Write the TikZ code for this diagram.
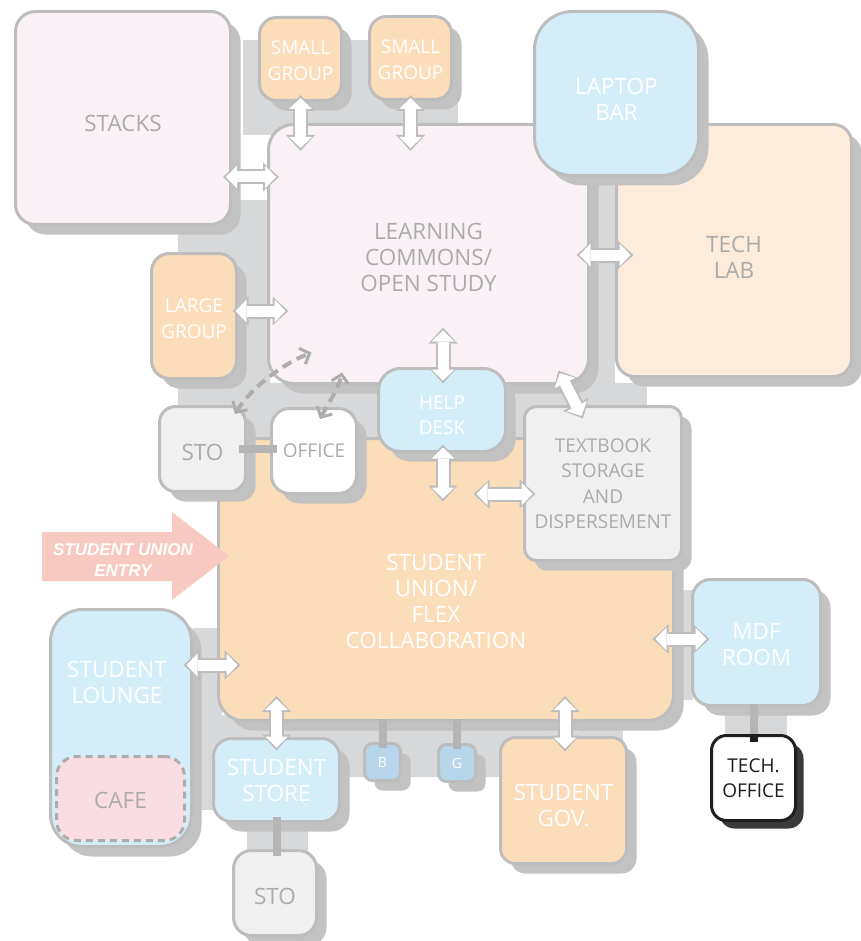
\documentclass[tikz,border=0pt]{standalone}
\usepackage{fontspec}
\setmainfont{Open Sans}
\newfontfamily\entryfont{Liberation Sans}
\usepackage{tikz}
\usetikzlibrary{calc}
\usetikzlibrary{shadows}
\usetikzlibrary{arrows.meta}

\definecolor{corr}{HTML}{D7D8DA}
\definecolor{shade}{HTML}{C2C2C2}
\definecolor{darkshade}{HTML}{3A3A3A}
\definecolor{edge}{HTML}{BDBDBD}
\definecolor{ink}{HTML}{1E1E1E}
\definecolor{pinkroom}{HTML}{FAF1F7}
\definecolor{peach}{HTML}{FBDDBA}
\definecolor{techpeach}{HTML}{FDEBDC}
\definecolor{skyroom}{HTML}{D3EEF9}
\definecolor{bgblue}{HTML}{B7D6EB}
\definecolor{greyroom}{HTML}{F0F0F0}
\definecolor{caferoom}{HTML}{FADDE2}
\definecolor{entry}{HTML}{F8C9C0}
\definecolor{label}{HTML}{ABABAB}
\definecolor{dashgray}{HTML}{ADADAD}
\definecolor{bargray}{HTML}{B5B5B5}

\newcommand{\bigtext}{\fontsize{22.5}{26}\selectfont}
\newcommand{\smalltext}{\fontsize{19}{25.5}\selectfont}
\newcommand{\tinytext}{\fontsize{14}{16}\selectfont}
% a taller first line pushes the label down by #1
\newcommand{\sink}[1]{\rule{0pt}{\dimexpr\fontcharht\font`H+#1+#1\relax}}
% two-way passage: gray outline first, white body on top
\newcommand{\twoway}[2]{%
  \draw[wayout] #1 -- #2;
  \draw[wayin] #1 -- #2;
}

\tikzset{
  base/.style={line width=3pt, align=center, inner sep=0pt, font=\bigtext},
  room/.style={base, draw=edge, text=white,
    drop shadow={shadow xshift=10pt, shadow yshift=-10pt, fill=shade, opacity=1}},
  darkroom/.style={base, draw=ink, text=ink,
    drop shadow={shadow xshift=8pt, shadow yshift=-8pt, fill=darkshade, opacity=1}},
  pale/.style={text=label},
  small/.style={font=\smalltext},
  outerhead/.tip={Triangle[width=29pt,length=16pt,line width=0pt]},
  innerhead/.tip={Triangle[width=23pt,length=11pt,line width=0pt]},
  wayout/.style={draw=edge, line width=15pt, outerhead-outerhead},
  wayin/.style={draw=white, line width=11pt, innerhead-innerhead, shorten <=3pt, shorten >=3pt},
  barb/.tip={Straight Barb[length=8pt,width=17pt,line width=3pt]},
  doorway/.style={draw=dashgray, line width=4pt, dash pattern=on 10pt off 6pt, barb-barb},
  bar/.style={draw=bargray, line width=8pt},
  corridor/.style={fill=corr},
}

\begin{document}
\begin{tikzpicture}[x=1pt, y=-1pt]
    \useasboundingbox (0,0) rectangle (860,941);

    % corridors
    \fill[corridor] (243,40) rectangle (458,135);
    \fill[corridor] (178,200) rectangle (270,445);
    \fill[corridor] (178,383) rectangle (647,442);
    \fill[corridor] (588,170) rectangle (615,400);
    \fill[corridor] (193,628) rectangle (222,810);
    \fill[corridor] (193,715) rectangle (623,777);
    \fill[corridor] (247,815) rectangle (308,855);
    \fill[corridor] (670,590) rectangle (693,700);
    \fill[corridor] (725,700) rectangle (787,737);

    % upper floor
    \node[room, pale, fill=pinkroom, minimum width=215pt, minimum height=213pt, rounded corners=20pt] (stacks) at (123,118) {\sink{6pt}STACKS};
    \node[room, small, fill=peach, minimum width=82pt, minimum height=83pt, rounded corners=17pt] (sg1) at (300.5,59) {\sink{2pt}SMALL\\GROUP};
    \node[room, small, fill=peach, minimum width=82pt, minimum height=83pt, rounded corners=17pt] (sg2) at (410.5,58) {\sink{2pt}SMALL\\GROUP};
    \node[room, pale, fill=pinkroom, minimum width=320pt, minimum height=259pt, rounded corners=25pt] (lc) at (428.5,254) {\sink{4pt}LEARNING\\COMMONS/\\OPEN STUDY};
    \node[room, pale, fill=techpeach, minimum width=235pt, minimum height=252pt, rounded corners=18pt] (techlab) at (734,250.5) {\sink{6.5pt}TECH\\LAB};
    \node[room, fill=skyroom, minimum width=164pt, minimum height=164pt, rounded corners=38pt] (laptop) at (616.5,93.5) {\sink{6pt}LAPTOP\\BAR};
    \node[room, small, fill=peach, minimum width=85pt, minimum height=125pt, rounded corners=18pt] (large) at (194,316) {\sink{3pt}LARGE\\GROUP};

    % student union
    \node[room, fill=peach, minimum width=455pt, minimum height=282pt, rounded corners=25pt,
      label={[text=white, font=\bigtext, align=center, xshift=-10pt, yshift=-22pt]center:{STUDENT\\UNION/\\FLEX\\COLLABORATION}}] (union) at (446,579.5) {};
    \node[room, pale, fill=greyroom, minimum width=86pt, minimum height=85pt, rounded corners=16pt] (sto1) at (202.5,449) {\sink{4pt}STO};
    \node[room, pale, small, fill=white, minimum width=85pt, minimum height=85pt, rounded corners=18pt] (office) at (314,451) {OFFICE};
    \node[room, small, fill=skyroom, minimum width=127pt, minimum height=83pt, rounded corners=22pt] (help) at (442,410) {\sink{5.5pt}HELP\\DESK};
    \node[room, pale, small, fill=greyroom, minimum width=157pt, minimum height=154pt, rounded corners=12pt] (textbook) at (603,483.5) {TEXTBOOK\\STORAGE\\AND\\DISPERSEMENT};

    % lower rooms
    \node[room, fill=skyroom, minimum width=141pt, minimum height=237pt, rounded corners=32pt,
      label={[text=white, font=\bigtext, align=center, xshift=-4pt, yshift=46pt]center:{STUDENT\\LOUNGE}}] (lounge) at (121,728) {};
    \node[base, pale, fill=caferoom, draw=dashgray, dash pattern=on 7pt off 5pt, minimum width=128pt, minimum height=84pt, rounded corners=20pt] (cafe) at (120.5,798.5) {\sink{2pt}CAFE};
    \node[room, fill=skyroom, minimum width=126pt, minimum height=83pt, rounded corners=18pt] (store) at (276.5,780) {STUDENT\\STORE};
    \node[room, pale, fill=greyroom, minimum width=83pt, minimum height=85pt, rounded corners=18pt] (sto2) at (275,893) {\sink{4pt}STO};
    \node[room, font=\tinytext, fill=bgblue, minimum width=36pt, minimum height=37pt, rounded corners=8pt] (b) at (382.5,762) {B};
    \node[room, font=\tinytext, fill=bgblue, minimum width=37pt, minimum height=37pt, rounded corners=8pt] (g) at (457,763) {G};
    \node[room, fill=peach, minimum width=126pt, minimum height=126pt, rounded corners=15pt] (gov) at (563.5,800.5) {\sink{5pt}STUDENT\\GOV.};
    \node[room, fill=skyroom, minimum width=128pt, minimum height=126pt, rounded corners=18pt] (mdf) at (756.5,642.5) {\sink{2.5pt}MDF\\ROOM};
    \node[darkroom, small, fill=white, minimum width=84pt, minimum height=85pt, rounded corners=15pt] (techoff) at (753.5,778) {TECH.\\OFFICE};

    % service links
    \draw[bar] ([xshift=-8pt]sto1.east) -- ([xshift=7pt]sto1.east -| office.west);
    \draw[bar] ([yshift=6pt]store.south) -- ([yshift=-7pt]store.south |- sto2.north);
    \draw[bar] ([yshift=3pt]b.north |- union.south) -- ([yshift=-6pt]b.north);
    \draw[bar] ([yshift=3pt]g.north |- union.south) -- ([yshift=-6pt]g.north);
    \draw[bar] ([yshift=3pt]techoff.north |- mdf.south) -- (techoff.north);
    \draw[bar, draw=ink] (techoff.north) -- ([yshift=-8pt]techoff.north);

    % passages
    \twoway{($(stacks.east)+(-9,59)$)}{($(stacks.east -| lc.west)+(12,59)$)}
    \twoway{($(sg1.south)+(0,-7)$)}{($(sg1.south |- lc.north)+(0,28)$)}
    \twoway{($(sg2.south)+(0,-6)$)}{($(sg2.south |- lc.north)+(0,28)$)}
    \twoway{($(large.east)+(-5.5,-5)$)}{($(large.east -| lc.west)+(21.5,-5)$)}
    \twoway{($(lc.east)+(-13.5,1)$)}{($(lc.east -| techlab.west)+(18.5,1)$)}
    \twoway{($(help.north |- lc.south)+(1,-57.5)$)}{($(help.north)+(1,16.5)$)}
    \twoway{($(help.south)+(1,-8.5)$)}{($(help.south |- union.north)+(1,64.5)$)}
    \twoway{($(textbook.west)+(-49.5,10.5)$)}{($(textbook.west)+(12.5,10.5)$)}
    \twoway{($(lc.south east)+(-31.5,-14.5)$)}{($(textbook.north)+(-20,13.5)$)}
    \twoway{($(mdf.west -| union.east)+(-22.5,-3.5)$)}{($(mdf.west)+(18.5,-3.5)$)}
    \twoway{($(gov.north |- union.south)+(1.5,-26)$)}{($(gov.north)+(1.5,15.5)$)}
    \twoway{($(store.north |- union.south)+(0,-26)$)}{($(store.north)+(0,13.5)$)}
    \twoway{($(lounge.east)+(-9.5,-63)$)}{($(lounge.east -| union.west)+(23.5,-63)$)}

    % staff doors
    \draw[doorway] ($(sto1.north east)+(-12,9)$) .. controls +(15,-25) and +(-30,12) .. ($(lc.south west)+(44.5,-32.5)$);
    \draw[doorway] ($(office.north)+(6,12)$) .. controls +(8,-15) and +(-3,15) .. ($(lc.south)+(-86.5,-12.5)$);

    % entry
    \fill[entry] (42,532) -- (172,532) -- (172,512) -- (229,556) -- (172,600) -- (172,581) -- (42,581) -- cycle;
    \node[align=center, text=white, font=\entryfont\bfseries\itshape\fontsize{17}{21}\selectfont] (entrytext) at (123,560) {STUDENT UNION\\ENTRY};
\end{tikzpicture}
\end{document}
